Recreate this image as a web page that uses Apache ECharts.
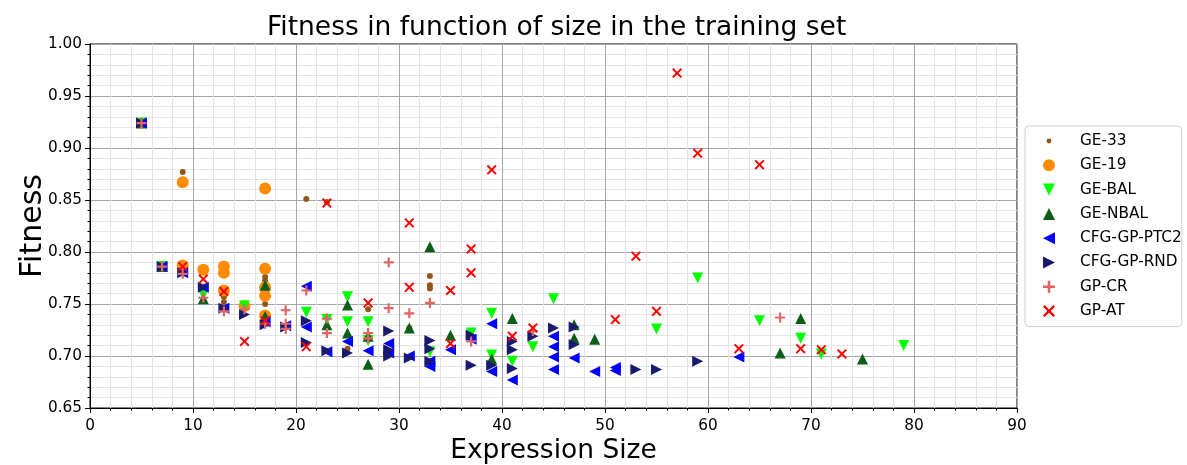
<!DOCTYPE html>
<html><head><meta charset="utf-8">
<script src="https://cdn.jsdelivr.net/npm/echarts@6/dist/echarts.min.js"></script>
<style>html,body{margin:0;padding:0;background:#fff}#c{width:1187px;height:465px}</style>
</head><body><div id="c"></div>
<script>
// ---- data: [expression size, fitness] ----
const ge33 = [[9,0.877],[13,0.757],[13,0.752],[17,0.776],[17,0.772],[17,0.750],[21,0.851],[23,0.848],[25,0.707],[27,0.745],[31,0.727],[33,0.777],[33,0.768],[33,0.765]];
const ge19 = [[9,0.867],[9,0.787],[11,0.783],[13,0.786],[13,0.780],[13,0.763],[15,0.748],[17,0.861],[17,0.784],[17,0.766],[17,0.758],[17,0.739]];
const geBal = [[5,0.924],[7,0.786],[11,0.759],[15,0.748],[21,0.742],[23,0.735],[25,0.757],[25,0.733],[27,0.733],[27,0.715],[33,0.704],[37,0.722],[39,0.741],[39,0.701],[41,0.695],[43,0.709],[45,0.755],[55,0.726],[59,0.775],[65,0.734],[69,0.717],[71,0.702],[79,0.710]];
const geNbal = [[5,0.924],[7,0.786],[11,0.755],[17,0.768],[17,0.738],[23,0.730],[25,0.749],[25,0.722],[27,0.719],[27,0.692],[31,0.727],[33,0.805],[35,0.720],[39,0.697],[41,0.736],[47,0.730],[47,0.717],[49,0.716],[67,0.703],[69,0.736],[75,0.697]];
const cfgPtc2 = [[5,0.924],[7,0.786],[9,0.780],[11,0.766],[13,0.746],[17,0.733],[19,0.729],[21,0.767],[21,0.728],[23,0.704],[25,0.714],[27,0.705],[29,0.712],[29,0.703],[31,0.700],[33,0.695],[33,0.690],[35,0.706],[37,0.716],[39,0.731],[39,0.685],[41,0.677],[45,0.719],[45,0.709],[45,0.699],[45,0.687],[47,0.698],[49,0.685],[51,0.689],[51,0.686],[63,0.699]];
const cfgRnd = [[5,0.924],[7,0.786],[9,0.780],[11,0.766],[13,0.746],[15,0.740],[17,0.730],[19,0.728],[21,0.734],[21,0.713],[23,0.705],[25,0.703],[29,0.724],[29,0.706],[29,0.700],[31,0.698],[33,0.715],[33,0.707],[33,0.695],[37,0.720],[37,0.691],[39,0.691],[41,0.714],[41,0.706],[41,0.688],[43,0.719],[45,0.727],[47,0.728],[47,0.711],[53,0.687],[55,0.687],[59,0.695]];
const gpCr = [[5,0.924],[7,0.786],[9,0.779],[11,0.756],[13,0.743],[15,0.745],[17,0.731],[19,0.744],[19,0.731],[19,0.726],[21,0.763],[23,0.736],[23,0.722],[27,0.722],[27,0.717],[29,0.790],[29,0.746],[31,0.741],[33,0.751],[37,0.714],[43,0.724],[67,0.737]];
const gpAt = [[9,0.786],[11,0.774],[13,0.762],[15,0.714],[17,0.734],[21,0.709],[23,0.847],[27,0.751],[31,0.828],[31,0.766],[35,0.763],[35,0.712],[37,0.803],[37,0.780],[39,0.879],[41,0.719],[43,0.727],[51,0.735],[53,0.796],[55,0.743],[57,0.972],[59,0.895],[63,0.707],[65,0.884],[69,0.707],[71,0.706],[73,0.702]];

const xTicks = {min:0, max:90, step:10};
const yTicks = {min:0.65, max:1.0, step:0.05};

const FONT = 'DejaVu Sans';
const SYM = {
  plus: 'path://M-1.1,-5H1.1V-1.1H5V1.1H1.1V5H-1.1V1.1H-5V-1.1H-1.1Z',
  cross: 'path://M-5,-3.6L-3.6,-5L0,-1.4L3.6,-5L5,-3.6L1.4,0L5,3.6L3.6,5L0,1.4L-3.6,5L-5,3.6L-1.4,0Z',
  up: 'path://M0,-5L5,5H-5Z',
  down: 'path://M-5,-5H5L0,5Z',
  left: 'path://M5,-5V5L-5,0Z',
  right: 'path://M-5,-5V5L5,0Z',
  smallDot: 'path://M-6,-6h0.01v0.01h-0.01z M6,6h0.01v0.01h-0.01z M0,-2.4a2.4,2.4 0 1,1 0,4.8a2.4,2.4 0 1,1 0,-4.8z'
};

function sc(name, data, symbol, size, color){
  return {name, type:'scatter', data, symbol, symbolSize:size,
    itemStyle:{color, opacity:1}, emphasis:{disabled:true}, silent:true, z:2};
}
const chart = echarts.init(document.getElementById('c'), null, {renderer:'canvas'});
chart.setOption({
  animation:false,
  backgroundColor:'#fff',
  textStyle:{fontFamily:FONT},
  title:{text:'Fitness in function of size in the training set', left:262, top:10,
    textStyle:{fontFamily:FONT, fontSize:26.5, fontWeight:'normal', color:'#000'}},
  grid:{left:90, right:170, top:44, bottom:57, outerBoundsMode:'none', containLabel:false,
    show:true, borderColor:'#000', borderWidth:1, backgroundColor:'transparent'},
  legend:{orient:'vertical', left:1025, top:126, itemWidth:12, itemHeight:12, itemGap:9.3,
    symbolKeepAspect:true,
    padding:[7.5,0,8,18], backgroundColor:'#fff', borderColor:'#d0d0d0', borderWidth:1, borderRadius:4,
    textStyle:{fontFamily:FONT, fontSize:15.3, color:'#000', padding:[0,0,0,20]},
    data:[{name:'GE-33', icon:SYM.smallDot},{name:'GE-19', icon:'circle'},{name:'GE-BAL', icon:SYM.down},
      {name:'GE-NBAL', icon:SYM.up},{name:'CFG-GP-PTC2', icon:SYM.left},{name:'CFG-GP-RND', icon:SYM.right},
      {name:'GP-CR', icon:SYM.plus},{name:'GP-AT', icon:SYM.cross}]},
  xAxis:{type:'value', min:xTicks.min, max:xTicks.max, interval:xTicks.step,
    name:'Expression Size', nameLocation:'middle', nameGap:30, nameMoveOverlap:false,
    nameTextStyle:{fontFamily:FONT, fontSize:26.5, color:'#000'},
    axisLine:{show:true, onZero:false, lineStyle:{color:'#000'}},
    axisTick:{show:true, length:5, lineStyle:{color:'#000'}},
    minorTick:{show:true, splitNumber:5, length:2.5, lineStyle:{color:'#000'}},
    axisLabel:{fontFamily:FONT, fontSize:15.3, color:'#000', margin:11},
    splitLine:{show:true, lineStyle:{color:'#a6a6a6', width:1}},
    minorSplitLine:{show:true, lineStyle:{color:'#e4e4e4', width:1}}},
  yAxis:{type:'value', min:yTicks.min, max:yTicks.max, interval:yTicks.step,
    name:'Fitness', nameLocation:'middle', nameGap:42, nameRotate:90, nameMoveOverlap:false,
    nameTextStyle:{fontFamily:FONT, fontSize:30, color:'#000'},
    axisLine:{show:true, onZero:false, lineStyle:{color:'#000'}},
    axisTick:{show:true, length:5, lineStyle:{color:'#000'}},
    minorTick:{show:true, splitNumber:5, length:2.5, lineStyle:{color:'#000'}},
    axisLabel:{fontFamily:FONT, fontSize:15.3, color:'#000', margin:8, formatter:v=>v.toFixed(2)},
    splitLine:{show:true, lineStyle:{color:'#a6a6a6', width:1}},
    minorSplitLine:{show:true, lineStyle:{color:'#e4e4e4', width:1}}},
  series:[
    sc('GE-33', ge33, 'circle', 6, '#93561a'),
    sc('GE-19', ge19, 'circle', 12, '#ff8c00'),
    sc('GE-BAL', geBal, SYM.down, 11, '#00ff00'),
    sc('GE-NBAL', geNbal, SYM.up, 11, '#0b5e17'),
    sc('CFG-GP-PTC2', cfgPtc2, SYM.left, 11, '#0000ff'),
    sc('CFG-GP-RND', cfgRnd, SYM.right, 11, '#191970'),
    sc('GP-CR', gpCr, SYM.plus, 10, '#e06666'),
    sc('GP-AT', gpAt, SYM.cross, 10, '#ff0000')
  ]
});
</script></body></html>
